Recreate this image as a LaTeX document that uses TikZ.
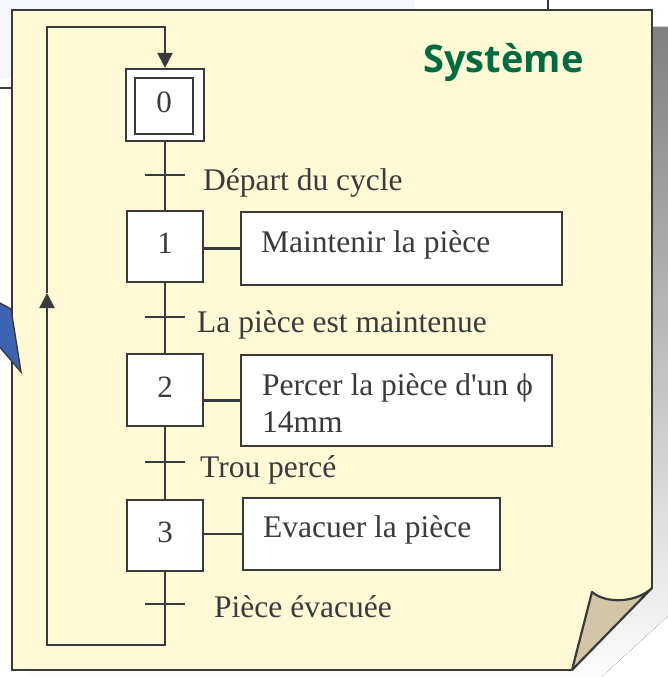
\documentclass[tikz,border=0pt]{standalone}
\usepackage{fontspec}
\setmainfont{Liberation Serif}
\newfontfamily\titlefont{Open Sans}
\newfontfamily\plainquote[Ligatures=TeXOff]{Liberation Serif}
\usetikzlibrary{arrows.meta}

\definecolor{paper}{HTML}{FFF9D6}
\definecolor{edge}{HTML}{3A3A3C}
\definecolor{shade}{HTML}{8C807D}
\definecolor{flap}{HTML}{D3C5A8}
\definecolor{skyband}{HTML}{F3F7FC}
\definecolor{titlegreen}{HTML}{006B40}
\definecolor{tabblue}{HTML}{3D64B3}

\tikzset{
  wire/.style={draw=edge, line width=2.2pt},
  stepbox/.style={draw=edge, line width=2.2pt, fill=white, minimum width=76pt,
    minimum height=71pt, inner sep=0pt},
  stepnum/.style={inner sep=0pt, font=\fontsize{31}{36}\selectfont, text=edge},
  actbox/.style={draw=edge, line width=2.2pt, fill=white, inner sep=0pt},
  acttext/.style={inner sep=0pt, align=left, font=\fontsize{31.5}{37}\selectfont, text=edge},
  condtext/.style={anchor=base west, inner sep=0pt, font=\fontsize{31.5}{36}\selectfont, text=edge},
  tipdown/.style={-{Triangle[width=15pt,length=15pt]}},
}

\begin{document}
\begin{tikzpicture}[x=1pt,y=-1pt]
\useasboundingbox (0,0) rectangle (667,677);
\fill[white] (0,0) rectangle (667,677);

% page behind the sheet
\fill[skyband] (0,0) rectangle (415,78);
\draw[wire] (548,0) -- (548,10);
\draw[wire] (0,88) -- (12,88);

% drop shadow of the sheet
\fill[shade] (27,27) -- (680,27) -- (680,605) -- (587,690) -- (27,690) -- cycle;

% the sheet with its curled corner
\fill[paper] (12,10) -- (652,10) -- (652,588) -- (572,670) -- (12,670) -- cycle;
\draw[draw=edge, line width=2.2pt, line join=miter]
  (572,670) -- (12,670) -- (12,10) -- (652,10) -- (652,588);
\filldraw[fill=flap, draw=edge, line width=2.2pt, line join=round]
  (652,588) .. controls (636,603) and (606,604) .. (592,592) -- (572,670) -- cycle;

% blue tab peeking from behind
\filldraw[fill=tabblue, draw=edge, line width=1.4pt, line join=miter]
  (-2,302) -- (11,309) -- (21,372) -- (-2,345) -- cycle;

% title
\node[anchor=base, inner sep=0pt, text=titlegreen,
      font=\titlefont\bfseries\fontsize{38}{40}\selectfont] (title) at (503.5,73) {Système};

% steps
\node[stepbox, minimum width=78pt, minimum height=72pt] (s0) at (165,105) {};
\node[stepbox, minimum width=58pt, minimum height=56pt] (s0in) at (164,106) {};
\node[stepbox] (s1) at (165,246.5) {};
\node[stepbox, minimum height=72pt] (s2) at (165,390) {};
\node[stepbox] (s3) at (165,535.5) {};
\node[stepnum] (n0) at ([yshift=4pt]s0in.center) {0};
\node[stepnum] (n1) at ([yshift=3pt]s1.center) {1};
\node[stepnum] (n2) at ([yshift=3pt]s2.center) {2};
\node[stepnum] (n3) at ([yshift=3pt]s3.center) {3};

% actions
\node[actbox, minimum width=321pt, minimum height=73pt] (a1) at (401.5,248.5) {};
\node[actbox, minimum width=311pt, minimum height=91pt] (a2) at (396.5,400.5) {};
\node[actbox, minimum width=257pt, minimum height=72pt] (a3) at (371.5,534) {};
\node[acttext, anchor=west] (x1) at ([xshift=21pt, yshift=4pt]a1.west) {Maintenir la pièce};
\node[acttext, anchor=base west] (x2) at (262,432) {Percer la pièce d{\plainquote'}un ϕ\\14mm};
\node[acttext, anchor=west] (x3) at ([xshift=21pt, yshift=4pt]a3.west) {Evacuer la pièce};

\draw[wire] (a1.west -| s1.east) -- (a1.west);
\draw[wire] (a2.west -| s2.east) -- (a2.west);
\draw[wire] (a3.west -| s3.east) -- (a3.west);

% links between steps
\draw[wire] (s0.south) -- (s1.north);
\draw[wire] (s1.south) -- (s2.north);
\draw[wire] (s2.south) -- (s3.north);

% transitions
\coordinate (t1) at (165,175);
\coordinate (t2) at (165,317);
\coordinate (t3) at (165,462);
\coordinate (t4) at (165,604);
\foreach \t in {t1,t2,t3,t4}
  \draw[wire] ([xshift=-20pt]\t) -- ([xshift=20pt]\t);

\node[condtext] (c1) at (203,190) {Départ du cycle};
\node[condtext] (c2) at (197,332) {La pièce est maintenue};
\node[condtext] (c3) at (200,477) {Trou percé};
\node[condtext] (c4) at (214,617) {Pièce évacuée};

% return loop
\coordinate (lb) at (165,645);
\coordinate (lc) at (47,645);
\coordinate (lm) at (47,293);
\coordinate (lt) at (47,27);
\draw[wire, line join=miter, tipdown] (s3.south) -- (lb) -- (lc) -- (lm);
\draw[wire, line join=miter, tipdown] (lm) -- (lt) -| (s0.north);
\end{tikzpicture}
\end{document}
